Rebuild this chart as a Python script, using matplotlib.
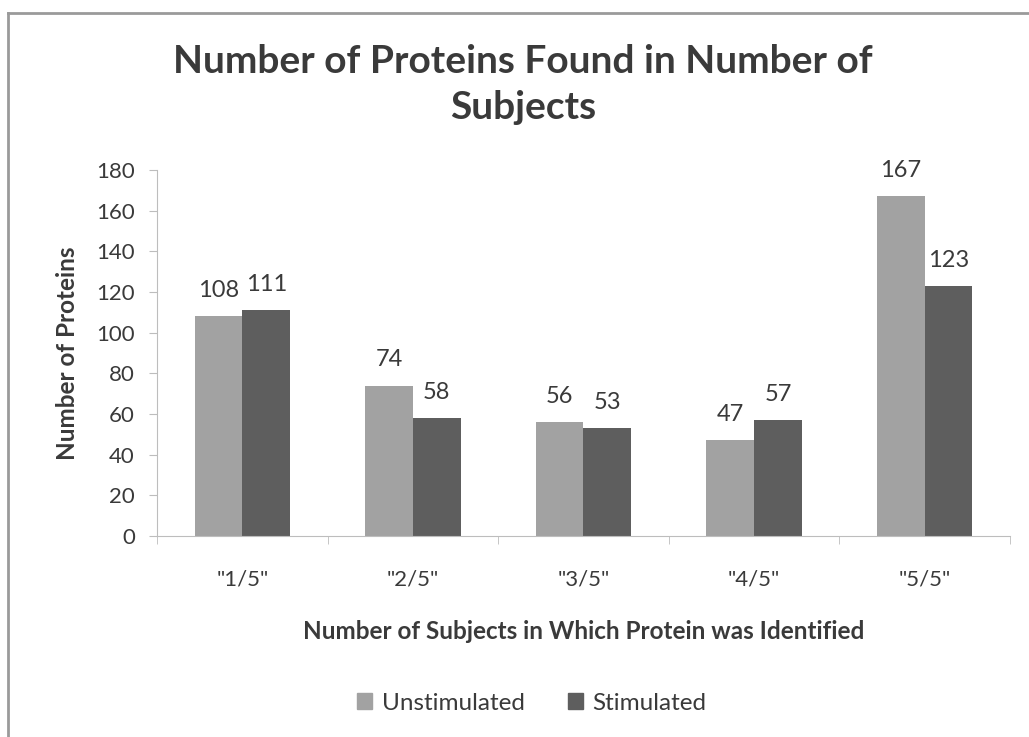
import numpy as np
import matplotlib.pyplot as plt
from matplotlib.lines import Line2D
from matplotlib.patches import Patch

categories = ['"1/5"', '"2/5"', '"3/5"', '"4/5"', '"5/5"']
unstimulated = [108, 74, 56, 47, 167]
stimulated = [111, 58, 53, 57, 123]
yticks = [0, 20, 40, 60, 80, 100, 120, 140, 160, 180]

plt.rcParams['font.family'] = ['Lato', 'DejaVu Sans']
text_col = '#3a3a3a'
light = '#a2a2a2'
dark = '#5e5e5e'
axis_col = '#bdbdbd'

fig = plt.figure(figsize=(10.29, 7.37), dpi=100)
ax = fig.add_axes([0.1526, 0.2727, 0.8289, 0.4966])

x = np.arange(len(categories))
w = 0.28
b1 = ax.bar(x - w / 2, unstimulated, w, color=light, label='Unstimulated')
b2 = ax.bar(x + w / 2, stimulated, w, color=dark, label='Stimulated')

for bars, vals in ((b1, unstimulated), (b2, stimulated)):
    for r, v in zip(bars, vals):
        ax.annotate(str(v), (r.get_x() + r.get_width() / 2, v),
                    xytext=(0, 11), textcoords='offset points',
                    ha='center', va='bottom', fontsize=17, color=text_col)

ax.set_xlim(-0.5, len(categories) - 0.5)
ax.set_ylim(0, 180)
ax.set_yticks(yticks)
ax.set_xticks(x)
ax.set_xticklabels(categories)
ax.set_xticks(np.arange(len(categories) + 1) - 0.5, minor=True)
ax.tick_params(axis='x', which='major', length=0, pad=24, labelsize=16, labelcolor=text_col)
ax.tick_params(axis='x', which='minor', length=6, color=axis_col, direction='out')
ax.tick_params(axis='y', length=6, color=axis_col, labelsize=16, labelcolor=text_col, pad=10)

for s in ('top', 'right'):
    ax.spines[s].set_visible(False)
for s in ('left', 'bottom'):
    ax.spines[s].set_color(axis_col)

ax.set_ylabel('Number of Proteins', fontsize=17.5, fontweight='bold', color=text_col, labelpad=12)
ax.set_xlabel('Number of Subjects in Which Protein was Identified', fontsize=17.5,
              fontweight='bold', color=text_col, labelpad=22)

fig.text(0.508, 0.885, 'Number of Proteins Found in Number of\nSubjects', ha='center', va='center',
         fontsize=28, fontweight='bold', color=text_col, linespacing=1.38)

handles = [Patch(color=light), Patch(color=dark)]
fig.legend(handles, ['Unstimulated', 'Stimulated'], loc='center', bbox_to_anchor=(0.517, 0.046),
           ncol=2, frameon=False, fontsize=17.5, handlelength=0.6, handleheight=0.6,
           handletextpad=0.4, columnspacing=1.8, labelcolor=text_col)

# outer chart frame (left and top edges visible)
fig.add_artist(Line2D([0.008, 0.008], [0, 0.982], color='#9a9a9a', lw=2))
fig.add_artist(Line2D([0.008, 1.0], [0.982, 0.982], color='#9a9a9a', lw=2))

plt.savefig('out.png', dpi=100)
